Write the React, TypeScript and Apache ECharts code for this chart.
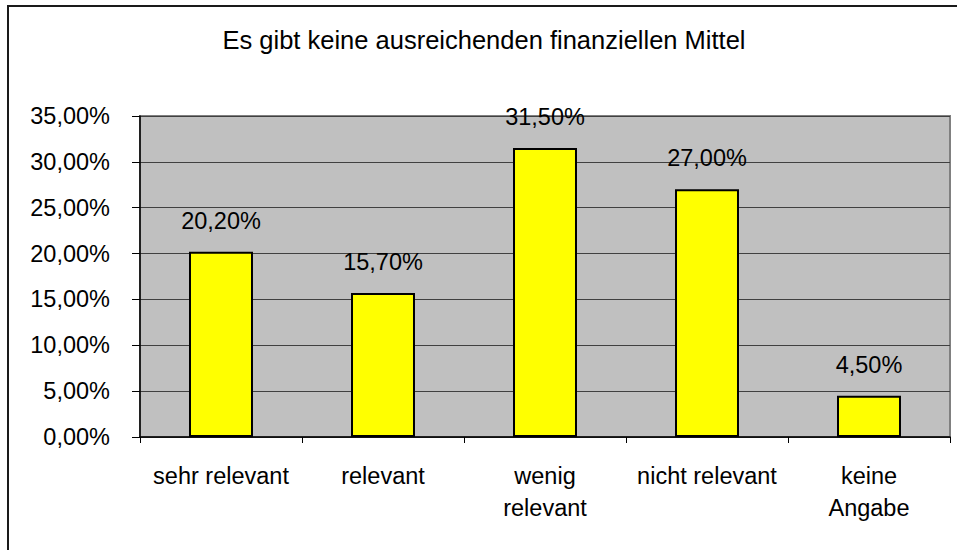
import React, { useEffect, useRef } from "react";
import * as echarts from "echarts";

const titleText = "Es gibt keine ausreichenden finanziellen Mittel";
const categories = ["sehr relevant", "relevant", "wenig\nrelevant", "nicht relevant", "keine\nAngabe"];
const values = [20.2, 15.7, 31.5, 27.0, 4.5];
const yMin = 0;
const yMax = 35;
const yStep = 5;

const fmt = (v: number) => v.toFixed(2).replace(".", ",") + "%";
const FONT = "'Liberation Sans', Arial, sans-serif";

export default function App() {
  const ref = useRef<HTMLDivElement>(null);
  useEffect(() => {
    if (!ref.current) return;
    const chart = echarts.init(ref.current, undefined, { renderer: "svg" });
    chart.setOption({
      animation: false,
      backgroundColor: "#ffffff",
      textStyle: { fontFamily: FONT },
      graphic: [
        {
          type: "rect",
          shape: { x: 8, y: 6, width: 960, height: 560 },
          style: { fill: "none", stroke: "#1a1a1a", lineWidth: 2 },
          z: 100,
        },
        {
          type: "text",
          x: 484,
          y: 40,
          style: {
            text: titleText,
            fontSize: 25.5,
            fontFamily: FONT,
            fill: "#000",
            align: "center",
            verticalAlign: "middle",
          },
        },
      ],
      grid: {
        left: 140,
        top: 116,
        right: 7,
        bottom: 113,
        show: true,
        backgroundColor: "#C0C0C0",
        borderColor: "#808080",
        borderWidth: 2,
      },
      xAxis: {
        type: "category",
        data: categories,
        axisLine: { show: true, lineStyle: { color: "#000", width: 1.5 } },
        axisTick: { show: true, alignWithLabel: false, length: 6, lineStyle: { color: "#000" } },
        axisLabel: {
          color: "#000",
          fontSize: 23.5,
          lineHeight: 32,
          margin: 23,
          fontFamily: FONT,
          interval: 0,
        },
      },
      yAxis: {
        type: "value",
        min: yMin,
        max: yMax,
        interval: yStep,
        axisLine: { show: true, lineStyle: { color: "#000", width: 1.5 } },
        axisTick: { show: true, length: 8, lineStyle: { color: "#000" } },
        axisLabel: {
          color: "#000",
          fontSize: 23.5,
          margin: 30,
          fontFamily: FONT,
          formatter: (v: number) => fmt(v),
        },
        splitLine: { show: true, lineStyle: { color: "#404040", width: 1 } },
      },
      series: [
        {
          type: "bar",
          data: values,
          barWidth: "39.5%",
          itemStyle: { color: "#FFFF00", borderColor: "#000", borderWidth: 2 },
          label: {
            show: true,
            position: "top",
            distance: 19,
            color: "#000",
            fontSize: 23.5,
            fontFamily: FONT,
            formatter: (p: any) => fmt(p.value),
          },
        },
      ],
    });
    return () => chart.dispose();
  }, []);
  return (
    <div
      ref={ref}
      style={{ position: "fixed", left: 0, top: 0, width: 957, height: 550 }}
    />
  );
}
